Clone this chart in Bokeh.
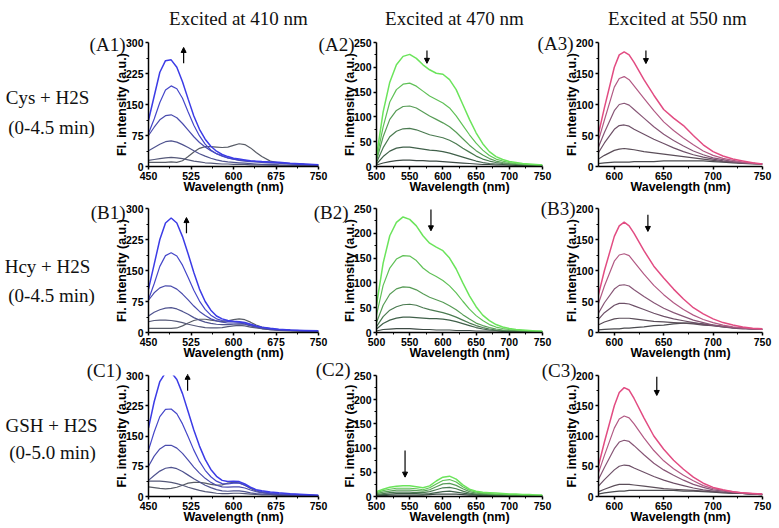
from bokeh.plotting import figure
from bokeh.layouts import column, row
from bokeh.models import Label, Arrow, NormalHead, FixedTicker, Range1d
from bokeh.embed import file_html
from bokeh.resources import INLINE

# ---------------- data ----------------
wl_410 = [450, 460, 470, 480, 490, 500, 510, 520, 530, 540, 550, 560, 570, 580, 590,
          600, 610, 620, 630, 640, 650, 665, 680, 700, 725, 750]
wl_470 = [500, 510, 520, 530, 540, 550, 560, 570, 580, 590, 600, 610, 620, 630, 640,
          650, 660, 670, 680, 690, 700, 710, 720, 730, 740, 750]
wl_550 = [580, 590, 600, 605, 610, 615, 620, 630, 640, 650, 660, 670, 680, 690, 700,
          710, 720, 730, 740, 750]

A1 = [
    [10, 10, 10, 10, 11, 10, 14, 24, 35, 44, 48, 48, 47, 46, 47, 51, 55, 53, 45, 34, 24, 13, 9, 7, 5, 4],
    [15, 17, 19, 21, 22, 21, 19, 16, 13, 11, 9, 8, 7, 6, 6, 5, 5, 5, 4, 4, 4, 3, 3, 3, 2, 2],
    [38, 46, 54, 60, 62, 59, 53, 46, 38, 31, 25, 20, 16, 13, 11, 10, 9, 8, 7, 6, 5, 5, 4, 3, 3, 2],
    [75, 95, 113, 123, 125, 118, 104, 88, 72, 58, 47, 38, 31, 26, 21, 18, 15, 13, 12, 11, 10, 9, 8, 6, 5, 4],
    [80, 115, 155, 185, 195, 188, 165, 132, 100, 74, 54, 40, 31, 25, 21, 18, 16, 15, 13, 12, 11, 10, 9, 7, 5, 4],
    [112, 170, 228, 256, 258, 240, 205, 163, 122, 90, 66, 49, 37, 29, 24, 20, 18, 16, 14, 13, 12, 11, 10, 8, 6, 4],
]
B1 = [
    [10, 10, 10, 10, 10, 11, 16, 23, 29, 32, 32, 30, 28, 27, 28, 31, 33, 31, 25, 18, 13, 9, 6, 5, 4, 3],
    [26, 29, 30, 30, 29, 27, 24, 20, 17, 14, 12, 11, 11, 12, 14, 16, 17, 16, 13, 11, 9, 7, 5, 4, 3, 3],
    [40, 49, 55, 59, 60, 57, 51, 44, 36, 30, 25, 22, 20, 19, 19, 20, 21, 20, 16, 13, 10, 7, 6, 5, 4, 3],
    [78, 96, 108, 113, 112, 105, 93, 79, 64, 51, 41, 33, 28, 25, 23, 23, 23, 21, 17, 14, 11, 8, 6, 5, 4, 3],
    [80, 118, 160, 186, 193, 185, 163, 133, 102, 76, 56, 42, 33, 29, 27, 26, 25, 23, 19, 15, 12, 9, 7, 6, 4, 3],
    [105, 165, 225, 265, 277, 265, 232, 190, 145, 105, 75, 54, 40, 33, 29, 27, 26, 24, 20, 16, 13, 10, 8, 6, 5, 4],
]
C1 = [
    [24, 22, 20, 19, 20, 23, 28, 33, 35, 35, 33, 30, 28, 29, 33, 35, 34, 28, 20, 14, 10, 7, 5, 4, 3, 2],
    [38, 38, 38, 37, 35, 32, 28, 23, 19, 15, 12, 10, 8, 7, 7, 8, 8, 7, 6, 5, 4, 4, 3, 3, 2, 2],
    [40, 52, 63, 70, 72, 69, 62, 53, 44, 36, 28, 22, 17, 14, 13, 14, 14, 12, 9, 7, 6, 5, 4, 3, 2, 2],
    [75, 100, 118, 127, 127, 120, 107, 90, 73, 58, 45, 35, 28, 24, 23, 24, 24, 21, 16, 12, 9, 7, 5, 4, 3, 2],
    [115, 160, 198, 216, 217, 205, 180, 148, 115, 87, 65, 49, 38, 32, 31, 33, 33, 28, 21, 16, 12, 9, 7, 6, 4, 3],
    [170, 235, 285, 307, 308, 290, 255, 210, 165, 125, 92, 67, 50, 40, 37, 38, 37, 31, 23, 17, 14, 11, 9, 7, 5, 3],
]
A2 = [
    [3, 7, 10, 12, 13, 13, 12, 12, 11, 11, 10, 9, 8, 7, 6, 5, 4, 4, 3, 3, 3, 2, 2, 2, 2, 2],
    [5, 20, 31, 37, 39, 39, 37, 35, 33, 32, 30, 27, 23, 19, 15, 11, 8, 6, 5, 4, 3, 3, 2, 2, 2, 2],
    [8, 38, 60, 71, 76, 77, 74, 69, 64, 61, 58, 53, 46, 37, 29, 21, 15, 11, 8, 6, 5, 4, 3, 3, 2, 2],
    [12, 60, 95, 113, 121, 122, 118, 110, 102, 95, 88, 80, 69, 56, 43, 32, 23, 16, 11, 8, 6, 5, 4, 3, 3, 2],
    [15, 80, 130, 155, 166, 168, 162, 152, 142, 135, 128, 118, 102, 83, 64, 47, 33, 22, 15, 11, 8, 6, 5, 4, 3, 3],
    [20, 110, 170, 205, 222, 226, 218, 205, 195, 188, 186, 175, 155, 125, 95, 68, 46, 30, 20, 14, 10, 8, 6, 5, 4, 3],
]
B2 = [
    [3, 6, 7, 8, 8, 8, 7, 6, 6, 5, 5, 5, 4, 4, 4, 3, 3, 3, 3, 2, 2, 2, 2, 2, 2, 2],
    [7, 18, 25, 29, 31, 31, 30, 29, 28, 28, 27, 25, 22, 18, 14, 10, 7, 5, 4, 3, 3, 2, 2, 2, 2, 2],
    [12, 32, 45, 52, 56, 57, 55, 50, 46, 43, 40, 36, 31, 25, 19, 14, 10, 7, 5, 4, 3, 3, 3, 2, 2, 2],
    [20, 55, 77, 88, 92, 91, 86, 78, 71, 66, 61, 54, 46, 36, 27, 19, 14, 10, 7, 5, 4, 4, 3, 3, 2, 2],
    [35, 95, 130, 148, 155, 154, 145, 130, 120, 113, 105, 94, 80, 63, 47, 34, 24, 16, 11, 8, 6, 5, 4, 3, 3, 2],
    [55, 140, 195, 222, 233, 228, 215, 195, 180, 172, 165, 150, 128, 100, 74, 52, 35, 24, 16, 11, 8, 6, 5, 4, 3, 3],
]
C2 = [
    [2, 2, 3, 3, 3, 3, 3, 3, 4, 5, 5, 5, 5, 4, 3, 3, 2, 2, 2, 2, 2, 1, 1, 1, 1, 1],
    [3, 4, 5, 6, 6, 6, 6, 5, 6, 8, 10, 11, 9, 7, 5, 4, 3, 3, 3, 2, 2, 2, 2, 2, 2, 1],
    [4, 6, 8, 9, 9, 9, 8, 8, 10, 14, 18, 19, 16, 11, 7, 5, 4, 4, 3, 3, 3, 2, 2, 2, 2, 2],
    [6, 9, 11, 13, 13, 13, 12, 11, 14, 20, 26, 27, 23, 16, 10, 7, 6, 5, 4, 4, 3, 3, 3, 2, 2, 2],
    [8, 12, 15, 17, 17, 17, 16, 14, 18, 26, 33, 35, 30, 20, 13, 9, 7, 6, 5, 5, 4, 4, 3, 3, 3, 2],
    [10, 15, 19, 21, 22, 22, 20, 18, 22, 32, 40, 42, 36, 24, 15, 11, 9, 8, 7, 6, 5, 5, 4, 4, 3, 3],
]
A3 = [
    [4, 6, 7, 7, 7, 7, 8, 8, 8, 9, 9, 9, 9, 9, 8, 7, 6, 5, 4, 4],
    [8, 18, 26, 28, 29, 28, 27, 24, 22, 20, 18, 16, 14, 12, 10, 8, 7, 6, 5, 4],
    [12, 38, 60, 66, 67, 65, 60, 52, 44, 37, 30, 24, 19, 15, 12, 9, 7, 6, 5, 4],
    [16, 55, 90, 100, 102, 99, 92, 78, 64, 52, 42, 33, 25, 19, 14, 11, 8, 6, 5, 4],
    [20, 75, 128, 142, 145, 140, 130, 110, 90, 72, 58, 46, 35, 25, 18, 13, 10, 7, 5, 4],
    [25, 95, 160, 180, 185, 180, 168, 140, 115, 92, 78, 66, 50, 35, 24, 17, 12, 9, 6, 4],
]
B3 = [
    [4, 5, 6, 6, 7, 7, 8, 9, 11, 12, 14, 15, 15, 14, 12, 10, 8, 7, 6, 5],
    [9, 17, 22, 23, 23, 23, 22, 20, 18, 17, 16, 15, 14, 12, 11, 9, 8, 7, 6, 5],
    [14, 32, 44, 47, 47, 46, 43, 37, 31, 26, 22, 19, 16, 13, 11, 9, 7, 6, 6, 5],
    [20, 48, 70, 76, 77, 75, 69, 58, 48, 39, 32, 26, 20, 16, 12, 10, 8, 7, 6, 5],
    [28, 75, 115, 125, 127, 124, 114, 94, 76, 61, 48, 37, 28, 21, 16, 12, 9, 7, 6, 5],
    [35, 100, 155, 172, 178, 172, 160, 132, 107, 88, 70, 54, 40, 30, 22, 16, 12, 9, 7, 6],
]
C3 = [
    [3, 6, 8, 9, 9, 10, 10, 10, 10, 10, 10, 9, 9, 8, 7, 6, 5, 5, 4, 3],
    [5, 12, 18, 20, 20, 20, 19, 17, 15, 13, 12, 11, 10, 9, 8, 7, 6, 5, 4, 3],
    [10, 28, 44, 50, 52, 51, 47, 40, 33, 27, 22, 18, 14, 11, 9, 7, 6, 5, 4, 3],
    [15, 48, 79, 90, 93, 91, 84, 69, 55, 44, 35, 27, 20, 15, 11, 9, 7, 5, 4, 4],
    [20, 68, 113, 128, 133, 130, 120, 97, 76, 59, 46, 35, 26, 18, 13, 10, 8, 6, 5, 4],
    [25, 90, 150, 172, 180, 176, 162, 130, 100, 78, 60, 45, 32, 22, 15, 11, 8, 6, 5, 4],
]

ticks_410 = [450, 525, 600, 675, 750]
ticks_470 = [500, 550, 600, 650, 700, 750]
ticks_550 = [600, 650, 700, 750]
yticks_410 = [0, 75, 150, 225, 300]
yticks_470 = [0, 50, 100, 150, 200, 250]
yticks_550 = [0, 50, 100, 150, 200]

excitation_titles = ["Excited at 410 nm", "Excited at 470 nm", "Excited at 550 nm"]
row_names = ["Cys + H2S", "Hcy + H2S", "GSH + H2S"]
row_times = ["(0-4.5 min)", "(0-4.5 min)", "(0-5.0 min)"]
panel_tags = [["(A1)", "(A2)", "(A3)"], ["(B1)", "(B2)", "(B3)"], ["(C1)", "(C2)", "(C3)"]]

# arrows: x, y_start, y_end (data units)
arrows = [
    [(512, 250, 288), (576, 234, 208), (632, 187, 166)],
    [(517, 240, 278), (582, 248, 205), (634, 190, 163)],
    [(519, 262, 303), (543, 95, 40), (643, 198, 167)],
]

blues = ["#585c66", "#555979", "#4f538f", "#4a4cad", "#4547c9", "#3c3ce6"]
greens = ["#3d4a44", "#40604a", "#4a7a50", "#579c56", "#60c157", "#6be45b"]
pinks = ["#4b4b4f", "#5b4e59", "#6d5067", "#875676", "#b25a84", "#e24c82"]

# ---------------- layout geometry (pixels) ----------------
W, H = 778, 527
col_w = [330, 226, 222]
col_bl = [148, 46, 42]
col_br = [12, 14, 16]
row_h = [198, 164, 165]
row_bt = [42, 10, 13]
row_bb = [32, 30, 31]

SERIF = "Liberation Serif"
SANS = "Liberation Sans"

# text positions in page pixels (x, baseline y)
title_pos = [(238, 18), (454, 18), (677, 18)]
tag_pos = [[(125, 44), (354, 44), (573, 43)],
           [(125, 212), (348, 212), (575, 208)],
           [(121, 370), (350, 369), (576, 370)]]
name_pos = [(47, 97), (47, 266), (51, 425)]
time_pos = [(51, 127), (51, 295), (52, 452)]


def make_panel(r, c, xs, series, colors, xr, yr, xt, xminor, yt, yminor):
    p = figure(width=col_w[c], height=row_h[r], x_range=Range1d(*xr), y_range=Range1d(*yr),
               output_backend="svg", toolbar_location=None,
               min_border_left=col_bl[c], min_border_right=col_br[c],
               min_border_top=row_bt[r], min_border_bottom=row_bb[r])
    p.outline_line_color = None
    p.grid.visible = False
    p.background_fill_alpha = 0
    p.border_fill_alpha = 0
    for i, ys in enumerate(series):
        p.line(xs, ys, line_color=colors[i], line_width=1.5 if i == 5 else 1.2)
    p.xaxis.ticker = FixedTicker(ticks=xt, minor_ticks=xminor)
    p.yaxis.ticker = FixedTicker(ticks=yt, minor_ticks=yminor)
    for ax in (p.xaxis, p.yaxis):
        ax.axis_line_width = 1.5
        ax.axis_line_color = "black"
        ax.major_tick_line_width = 1.5
        ax.major_tick_line_color = "black"
        ax.minor_tick_line_color = "black"
        ax.minor_tick_line_width = 1
        ax.major_tick_in = 0
        ax.major_tick_out = 3
        ax.minor_tick_in = 0
        ax.minor_tick_out = 2
        ax.major_label_text_font = SANS
        ax.major_label_text_font_style = "bold"
        ax.major_label_text_font_size = "10.5px"
        ax.major_label_text_color = "black"
        ax.major_label_standoff = 2
        ax.axis_label_text_font = SANS
        ax.axis_label_text_font_style = "bold"
        ax.axis_label_text_color = "black"
    p.xaxis.axis_label = "Wavelength (nm)"
    p.xaxis.axis_label_text_font_size = "12.5px"
    p.xaxis.axis_label_standoff = -3
    p.yaxis.axis_label = "Fl. intensity (a.u.)"
    p.yaxis.axis_label_text_font_size = "12.5px"
    p.yaxis.axis_label_standoff = -6

    ax_, y0, y1 = arrows[r][c]
    p.add_layout(Arrow(end=NormalHead(size=5, fill_color="black", line_color="black"),
                       x_start=ax_, y_start=y0, x_end=ax_, y_end=y1,
                       line_color="black", line_width=1.2))
    return p


# background figure that carries the free texts (1 data unit = 1 pixel)
bg = figure(width=W, height=H, x_range=Range1d(0, W), y_range=Range1d(H, 0),
            output_backend="svg", toolbar_location=None, min_border=0,
            x_axis_location=None, y_axis_location=None)
bg.outline_line_color = None
bg.grid.visible = False
bg.background_fill_color = "white"
bg.border_fill_color = "white"


def add_text(x, y, text, align="center", size="19px"):
    bg.add_layout(Label(x=x, y=y, text=text, text_font=SERIF, text_font_size=size,
                        text_align=align, text_baseline="alphabetic", text_color="#111111"))


for c in range(3):
    add_text(title_pos[c][0], title_pos[c][1], excitation_titles[c])
for r in range(3):
    add_text(name_pos[r][0], name_pos[r][1], row_names[r])
    add_text(time_pos[r][0], time_pos[r][1], row_times[r])
    for c in range(3):
        add_text(tag_pos[r][c][0], tag_pos[r][c][1], panel_tags[r][c], align="right")

rows = []
datasets = [[A1, A2, A3], [B1, B2, B3], [C1, C2, C3]]
for r in range(3):
    figs = []
    for c in range(3):
        if c == 0:
            p = make_panel(r, c, wl_410, datasets[r][c], blues, (450, 750), (0, 300),
                           ticks_410, [487.5, 562.5, 637.5, 712.5], yticks_410, [37.5, 112.5, 187.5, 262.5])
        elif c == 1:
            p = make_panel(r, c, wl_470, datasets[r][c], greens, (500, 750), (0, 250),
                           ticks_470, [525, 575, 625, 675, 725], yticks_470, [25, 75, 125, 175, 225])
        else:
            p = make_panel(r, c, wl_550, datasets[r][c], pinks, (584, 750), (0, 200),
                           ticks_550, [625, 675, 725], yticks_550, [25, 75, 125, 175])
        figs.append(p)
    rows.append(row(*figs, spacing=0))

grid = column(*rows, spacing=0, margin=(-H, 0, 0, 0))
layout = column(bg, grid, spacing=0)
open("out.html", "w").write(file_html(layout, INLINE))
